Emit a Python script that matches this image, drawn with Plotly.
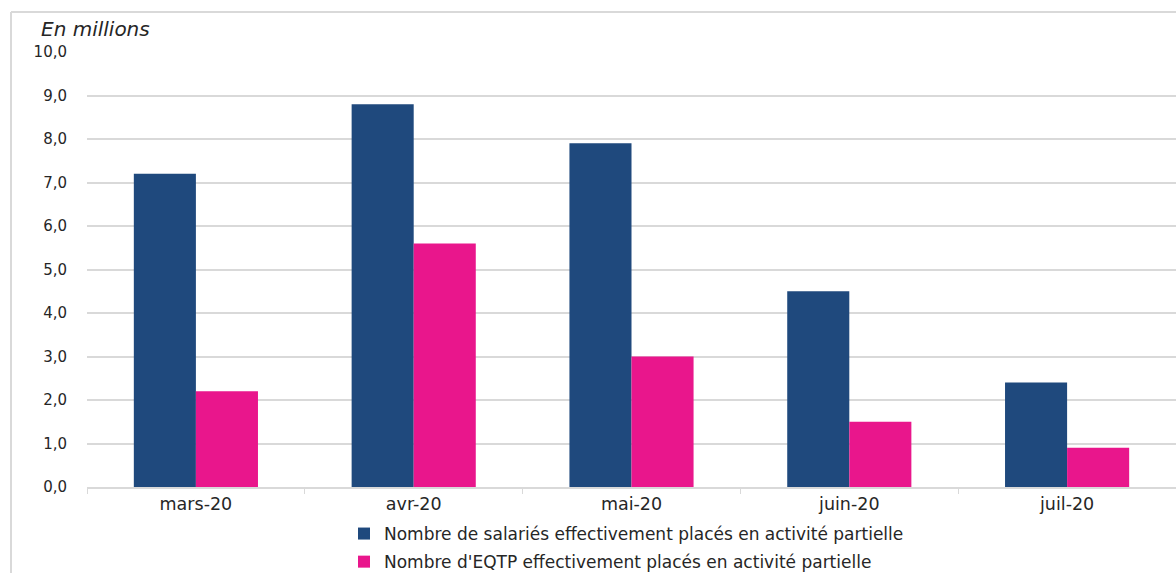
import plotly.graph_objects as go

# Monthly counts (in millions) of employees placed in partial activity
mois = ["mars-20", "avr-20", "mai-20", "juin-20", "juil-20"]
salaries = [7.2, 8.8, 7.9, 4.5, 2.4]
eqtp = [2.2, 5.6, 3.0, 1.5, 0.9]
nom_salaries = "Nombre de salariés effectivement placés en activité partielle"
nom_eqtp = "Nombre d'EQTP effectivement placés en activité partielle"

FONT = "DejaVu Sans, Liberation Sans, sans-serif"
GRID = "#d9d9d9"
TXT = "#262626"

fig = go.Figure()
fig.add_trace(go.Bar(x=mois, y=salaries, name=nom_salaries, marker_color="#1f497d",
                     marker_line_width=0, legendgroup="a"))
fig.add_trace(go.Bar(x=mois, y=eqtp, name=nom_eqtp, marker_color="#e9168c",
                     marker_line_width=0, legendgroup="b"))

W, H = 1176, 573
ML, MR, MT, MB = 87, 0, 52, 86
pw = W - ML - MR
ph = H - MT - MB

def px_x(p):
    return (p - ML) / pw

def px_y(p):
    return (H - MB - p) / ph

fig.update_layout(
    width=W, height=H,
    margin=dict(l=ML, r=MR, t=MT, b=MB, autoexpand=False),
    paper_bgcolor="white", plot_bgcolor="white",
    barmode="group", bargap=0.43, bargroupgap=0,
    separators=", ",
    font=dict(family=FONT, size=15, color=TXT),
    showlegend=True,
    legend=dict(orientation="v", x=px_x(344), xanchor="left", y=px_y(516), yanchor="top",
                traceorder="grouped", tracegroupgap=3, font=dict(size=17, color=TXT),
                itemwidth=30, bgcolor="rgba(0,0,0,0)"),
    xaxis=dict(showgrid=False, showline=True, linecolor=GRID, linewidth=1.5,
               ticks="outside", tickson="boundaries", ticklen=5, tickcolor=GRID,
               tickfont=dict(size=17.5, color=TXT), fixedrange=True),
    yaxis=dict(range=[0, 10], dtick=1, tickformat=".1f", showgrid=True, gridcolor=GRID,
               gridwidth=1.5, zeroline=False, ticks="", ticklabelstandoff=19,
               tickfont=dict(size=15, color=TXT), fixedrange=True),
    shapes=[
        dict(type="line", xref="paper", yref="paper", x0=px_x(11), x1=px_x(11),
             y0=px_y(12), y1=px_y(H + 5), line=dict(color=GRID, width=2)),
        dict(type="line", xref="paper", yref="paper", x0=px_x(11), x1=px_x(W + 5),
             y0=px_y(12), y1=px_y(12), line=dict(color=GRID, width=2)),
    ],
    annotations=[
        dict(text="<i>En millions</i>", xref="paper", yref="paper", x=px_x(39), y=px_y(29),
             xanchor="left", yanchor="middle", showarrow=False,
             font=dict(size=20, color=TXT)),
    ],
)

fig.write_html("out.html")
